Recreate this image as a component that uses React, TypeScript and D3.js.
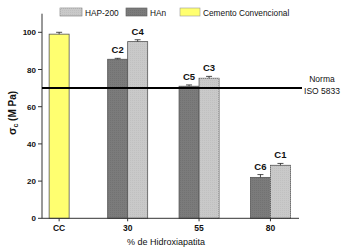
import React from "react";
import * as d3 from "d3";

const categories = ["CC", "30", "55", "80"];
const categoryX = [6, 30, 55, 80];
const ccValue = 99;
const ccErr = 1;
const hanValues = [85.5, 71, 22];
const hanErrs = [0.5, 0.7, 1.5];
const hanLabels = ["C2", "C5", "C6"];
const hapValues = [95, 75.3, 28.5];
const hapErrs = [1, 1, 1];
const hapLabels = ["C4", "C3", "C1"];
const yTicks = [0, 20, 40, 60, 80, 100];
const normaValue = 70;

const W = 348, H = 251;
const FONT = "'Liberation Sans', Arial, sans-serif";

export default function App() {
  const x = d3.scaleLinear().domain([0, 90]).range([42, 299]);
  const y = d3.scaleLinear().domain([0, 110]).range([218.3, 13.7]);
  const bw = 20;
  const axisColor = "#333";
  const yellow = "#ffff70";
  const dark = "#7b7b7b";
  const light = "#c9c9c9";

  const bar = (x0: number, v: number, err: number, fill: string, pat: string, label: string | null, key: string) => {
    const top = y(v);
    const etop = y(v + err);
    const cx = x0 + bw / 2;
    return (
      <g key={key}>
        <rect x={x0} y={top} width={bw} height={y(0) - top} fill={fill} stroke="#555" strokeWidth={0.8} />
        {pat && <rect x={x0} y={top} width={bw} height={y(0) - top} fill={`url(#${pat})`} />}
        <line x1={cx} x2={cx} y1={etop} y2={top} stroke="#222" strokeWidth={0.8} />
        <line x1={cx - 3} x2={cx + 3} y1={etop} y2={etop} stroke="#222" strokeWidth={0.8} />
        {label && (
          <text x={cx} y={etop - 5} textAnchor="middle" fontSize={9.5} fontWeight="bold" fontFamily={FONT} fill="#111">
            {label}
          </text>
        )}
      </g>
    );
  };

  return (
    <svg width={W} height={H} style={{ position: "absolute", left: 0, top: 0, background: "#fff" }}>
      <defs>
        <pattern id="pd" width="2" height="2" patternUnits="userSpaceOnUse">
          <rect width="1" height="1" fill="#727272" />
        </pattern>
        <pattern id="pl" width="2" height="2" patternUnits="userSpaceOnUse">
          <rect width="1" height="1" fill="#c0c0c0" />
        </pattern>
      </defs>
      <rect width={W} height={H} fill="#fff" />

      {/* legend */}
      <rect x={60} y={8} width={22} height={8} fill={light} stroke="#777" strokeWidth={0.6} />
      <rect x={60} y={8} width={22} height={8} fill="url(#pl)" />
      <text x={85} y={15.5} fontSize={8.3} fontFamily={FONT} fill="#111">HAP-200</text>
      <rect x={126} y={8} width={21} height={8} fill={dark} stroke="#555" strokeWidth={0.6} />
      <rect x={126} y={8} width={21} height={8} fill="url(#pd)" />
      <text x={150} y={15.5} fontSize={8.3} fontFamily={FONT} fill="#111">HAn</text>
      <rect x={180} y={8} width={20} height={8} fill={yellow} stroke="#999" strokeWidth={0.6} />
      <text x={203} y={15.5} fontSize={8.3} fontFamily={FONT} fill="#111">Cemento Convencional</text>

      {/* bars */}
      {bar(x(categoryX[0]) - bw / 2, ccValue, ccErr, yellow, "", null, "cc")}
      {hanValues.map((v, i) => bar(x(categoryX[i + 1]) - bw, v, hanErrs[i], dark, "pd", hanLabels[i], "h" + i))}
      {hapValues.map((v, i) => bar(x(categoryX[i + 1]), v, hapErrs[i], light, "pl", hapLabels[i], "p" + i))}

      {/* axes */}
      <line x1={x(0)} x2={x(0)} y1={y(0)} y2={y(110)} stroke={axisColor} strokeWidth={1} />
      <line x1={x(0)} x2={x(90)} y1={y(0)} y2={y(0)} stroke={axisColor} strokeWidth={1} />
      {yTicks.map((t) => (
        <g key={t}>
          <line x1={x(0) - 4} x2={x(0)} y1={y(t)} y2={y(t)} stroke={axisColor} strokeWidth={1} />
          <text x={x(0) - 6} y={y(t) + 3} textAnchor="end" fontSize={8} fontWeight="bold" fontFamily={FONT} fill="#111">
            {t}
          </text>
        </g>
      ))}
      {categories.map((c, i) => (
        <g key={c}>
          <line x1={x(categoryX[i])} x2={x(categoryX[i])} y1={y(0)} y2={y(0) + 3} stroke={axisColor} strokeWidth={1} />
          <text x={x(categoryX[i])} y={y(0) + 13} textAnchor="middle" fontSize={8.5} fontWeight="bold" fontFamily={FONT} fill="#111">
            {c}
          </text>
        </g>
      ))}

      {/* norma line */}
      <line x1={x(0)} x2={302} y1={y(normaValue)} y2={y(normaValue)} stroke="#000" strokeWidth={2} />
      <text x={322} y={y(normaValue) - 6} textAnchor="middle" fontSize={8.5} fontFamily={FONT} fill="#111">Norma</text>
      <text x={322} y={y(normaValue) + 6} textAnchor="middle" fontSize={8.5} fontFamily={FONT} fill="#111">ISO 5833</text>

      {/* titles */}
      <text x={166} y={245} textAnchor="middle" fontSize={9} fontFamily={FONT} fill="#111">% de Hidroxiapatita</text>
      <text transform="translate(16,113) rotate(-90)" textAnchor="middle" fontSize={10} fontWeight="bold" fontFamily={FONT} fill="#111">
        <tspan fontSize={11}>σ</tspan>
        <tspan fontSize={7} dy={2}>c</tspan>
        <tspan dy={-2}> (M Pa)</tspan>
      </text>
    </svg>
  );
}
